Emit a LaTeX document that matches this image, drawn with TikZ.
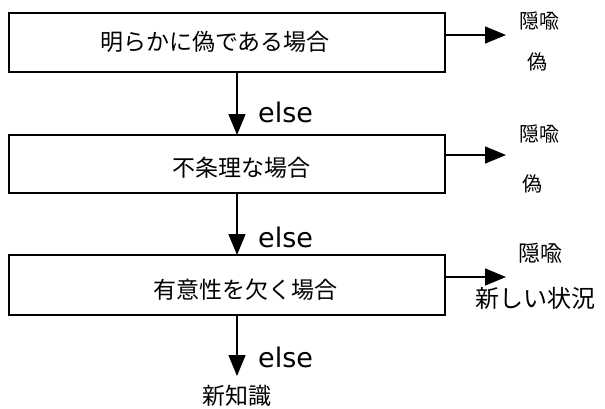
\documentclass[tikz,border=0pt]{standalone}
\usepackage{fontspec}
\newfontfamily\cjk{Noto Sans CJK JP}
\setmainfont{DejaVu Sans}
\usetikzlibrary{arrows.meta}
\begin{document}
\begin{tikzpicture}[x=1pt,y=-1pt,
  box/.style={draw,line width=1.6pt,inner sep=0pt},
  btxt/.style={font=\cjk\fontsize{23}{26}\selectfont,inner sep=0pt},
  arr/.style={line width=1.5pt,-{Triangle[length=21pt,width=17pt]}},
  lbl/.style={font=\cjk\fontsize{20}{22}\selectfont,inner sep=0pt},
  els/.style={font=\fontsize{27}{30}\selectfont,inner sep=0pt,anchor=west}]
\useasboundingbox (0,0) rectangle (605,408);
\draw[box] (9,13) rectangle (445,72);
\draw[box] (9,135) rectangle (445,193);
\draw[box] (9,255) rectangle (445,315);
\coordinate (b1s) at (237,72);
\coordinate (b2n) at (237,135);
\coordinate (b2s) at (237,193);
\coordinate (b3n) at (237,255);
\coordinate (b3s) at (237,315);
\node[btxt] (t1) at (215,42) {明らかに偽である場合};
\node[btxt] (t2) at (241,168) {不条理な場合};
\node[btxt] (t3) at (245,290) {有意性を欠く場合};
% right outputs
\coordinate (s1) at (445,35);
\coordinate (s2) at (445,155);
\coordinate (s3) at (445,277);
\coordinate (r1) at (506,35);
\coordinate (r2) at (506,155);
\coordinate (r3) at (506,277);
\draw[arr] (s1) -- (r1);
\draw[arr] (s2) -- (r2);
\draw[arr] (s3) -- (r3);
\node[lbl] (m1) at (539,21) {隠喩};
\node[lbl] (f1) at (537,62) {偽};
\node[lbl] (m2) at (539,134) {隠喩};
\node[lbl] (f2) at (532,184) {偽};
\node[lbl,font=\cjk\fontsize{22}{24}\selectfont] (m3) at (540,253) {隠喩};
\node[lbl,font=\cjk\fontsize{24}{26}\selectfont] (n3) at (535,298) {新しい状況};
% vertical
\node[lbl,font=\cjk\fontsize{23}{25}\selectfont] (nk) at (237,396) {新知識};
\coordinate (nkt) at (237,376);
\draw[arr] (b1s) -- (b2n);
\draw[arr] (b2s) -- (b3n);
\draw[arr] (b3s) -- (nkt);
\node[els] (e1) at (258,112) {else};
\node[els] (e2) at (258,237) {else};
\node[els] (e3) at (258,357) {else};
\end{tikzpicture}
\end{document}
